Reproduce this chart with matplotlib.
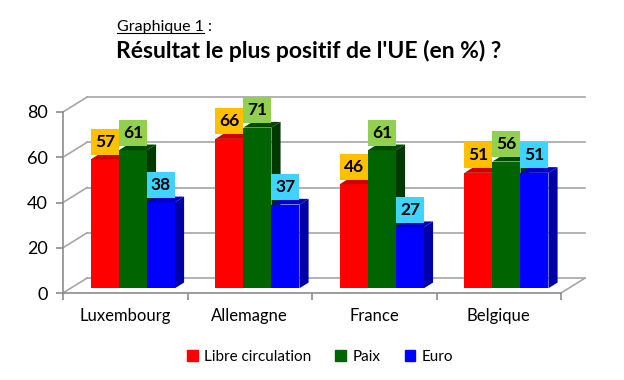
import numpy as np
import matplotlib.pyplot as plt
from matplotlib.patches import Polygon, Rectangle, Patch

plt.rcParams['font.family'] = ['Lato', 'DejaVu Sans']

# data
countries = ["Luxembourg", "Allemagne", "France", "Belgique"]
series = ["Libre circulation", "Paix", "Euro"]
libre = [57, 66, 46, 51]
paix = [61, 71, 61, 56]
euro = [38, 37, 27, 51]

front_col = ['#ff0000', '#006400', '#0000ff']
side_col = ['#c00000', '#003800', '#0000a8']
top_col = ['#d00000', '#004b00', '#0000c8']
box_col = ['#ffc000', '#92d050', '#3fd3ff']

# oblique 3D geometry (in data units)
DX, DY = 0.193, 6.6        # full depth of the walls
F0, F1 = 0.32, 0.70        # bar depth range (fraction of wall depth)
W = 0.225                  # bar width
grid_c = '#a6a6a6'

fig = plt.figure(figsize=(6.24, 3.8), dpi=100)
ax = fig.add_axes([63/624, 1 - 293/380, (561-63)/624, 181/380])
ax.set_xlim(0, 4)
ax.set_ylim(0, 80)

# back wall, side wall and floor
levels = np.arange(0, 81, 20)
for v in levels:
    ax.plot([DX, 4 + DX], [v + DY, v + DY], color=grid_c, lw=1.2, clip_on=False, zorder=1)
    ax.plot([0, DX], [v, v + DY], color=grid_c, lw=1.2, clip_on=False, zorder=1)
ax.plot([4, 4 + DX], [0, DY], color=grid_c, lw=1.2, clip_on=False, zorder=1)

values = [libre, paix, euro]
for i in range(len(countries)):
    for k in range(3):
        v = values[k][i]
        x0 = i + 0.5 - 1.5 * W + k * W + F0 * DX
        y0 = F0 * DY
        bdx = (F1 - F0) * DX
        bdy = (F1 - F0) * DY
        ax.bar(x0, v, width=W, bottom=y0, align='edge', color=front_col[k],
               zorder=3, clip_on=False)
        top = Polygon([(x0, y0 + v), (x0 + W, y0 + v), (x0 + W + bdx, y0 + v + bdy),
                       (x0 + bdx, y0 + v + bdy)], closed=True, fc=top_col[k],
                      ec='none', zorder=3, clip_on=False)
        side = Polygon([(x0 + W, y0), (x0 + W + bdx, y0 + bdy),
                        (x0 + W + bdx, y0 + v + bdy), (x0 + W, y0 + v)], closed=True,
                       fc=side_col[k], ec='none', zorder=3, clip_on=False)
        ax.add_patch(top)
        ax.add_patch(side)

# value label boxes
BH = 11.5
for i in range(len(countries)):
    for k in range(3):
        v = values[k][i]
        x0 = i + 0.5 - 1.5 * W + k * W + F0 * DX
        yb = v + F0 * DY + (F1 - F0) * DY - 0.5
        ax.add_patch(Rectangle((x0, yb), W, BH, fc=box_col[k], ec='none',
                               zorder=5, clip_on=False))
        ax.text(x0 + W / 2, yb + BH / 2, str(v), ha='center', va='center',
                fontsize=12.5, fontweight='bold', color='black', zorder=6)

# axes styling
for s in ['top', 'right']:
    ax.spines[s].set_visible(False)
for s in ['left', 'bottom']:
    ax.spines[s].set_color('#8c8c8c')
    ax.spines[s].set_linewidth(1.2)
ax.set_yticks(levels)
ax.tick_params(axis='y', colors='#8c8c8c', length=5, width=1.2, pad=6,
               labelsize=13, labelcolor='black')
ax.set_xticks([0, 1, 2, 3, 4])
ax.set_xticklabels([])
ax.tick_params(axis='x', which='major', colors='#8c8c8c', length=5, width=1.2)
ax.set_xticks(np.arange(4) + 0.5, minor=True)
ax.set_xticklabels(countries, minor=True)
ax.tick_params(axis='x', which='minor', length=0, pad=11, labelsize=12)
ax.patch.set_visible(False)

# titles
t1 = fig.text(117/624, 1 - 27/380, "Graphique 1", fontsize=11.5, va='center', ha='left')
fig.canvas.draw()
bb = t1.get_window_extent().transformed(fig.transFigure.inverted())
fig.text(bb.x1 + 4/624, 1 - 27/380, ":", fontsize=11.5, va='center', ha='left')
fig.add_artist(plt.Line2D([bb.x0, bb.x1], [bb.y0 + 1/380, bb.y0 + 1/380],
                          color='black', lw=0.8, transform=fig.transFigure))
fig.text(116/624, 1 - 51/380, "Résultat le plus positif de l'UE (en %) ?",
         fontsize=16.5, fontweight='bold', va='center', ha='left')

# legend
handles = [Patch(color=front_col[k], label=series[k]) for k in range(3)]
fig.legend(handles=handles, loc='center', bbox_to_anchor=(320/624, 1 - 357/380),
           ncol=3, frameon=False, fontsize=11, handlelength=0.7, handleheight=0.7,
           handletextpad=0.4, columnspacing=1.6)

fig.savefig('out.png', dpi=100)
